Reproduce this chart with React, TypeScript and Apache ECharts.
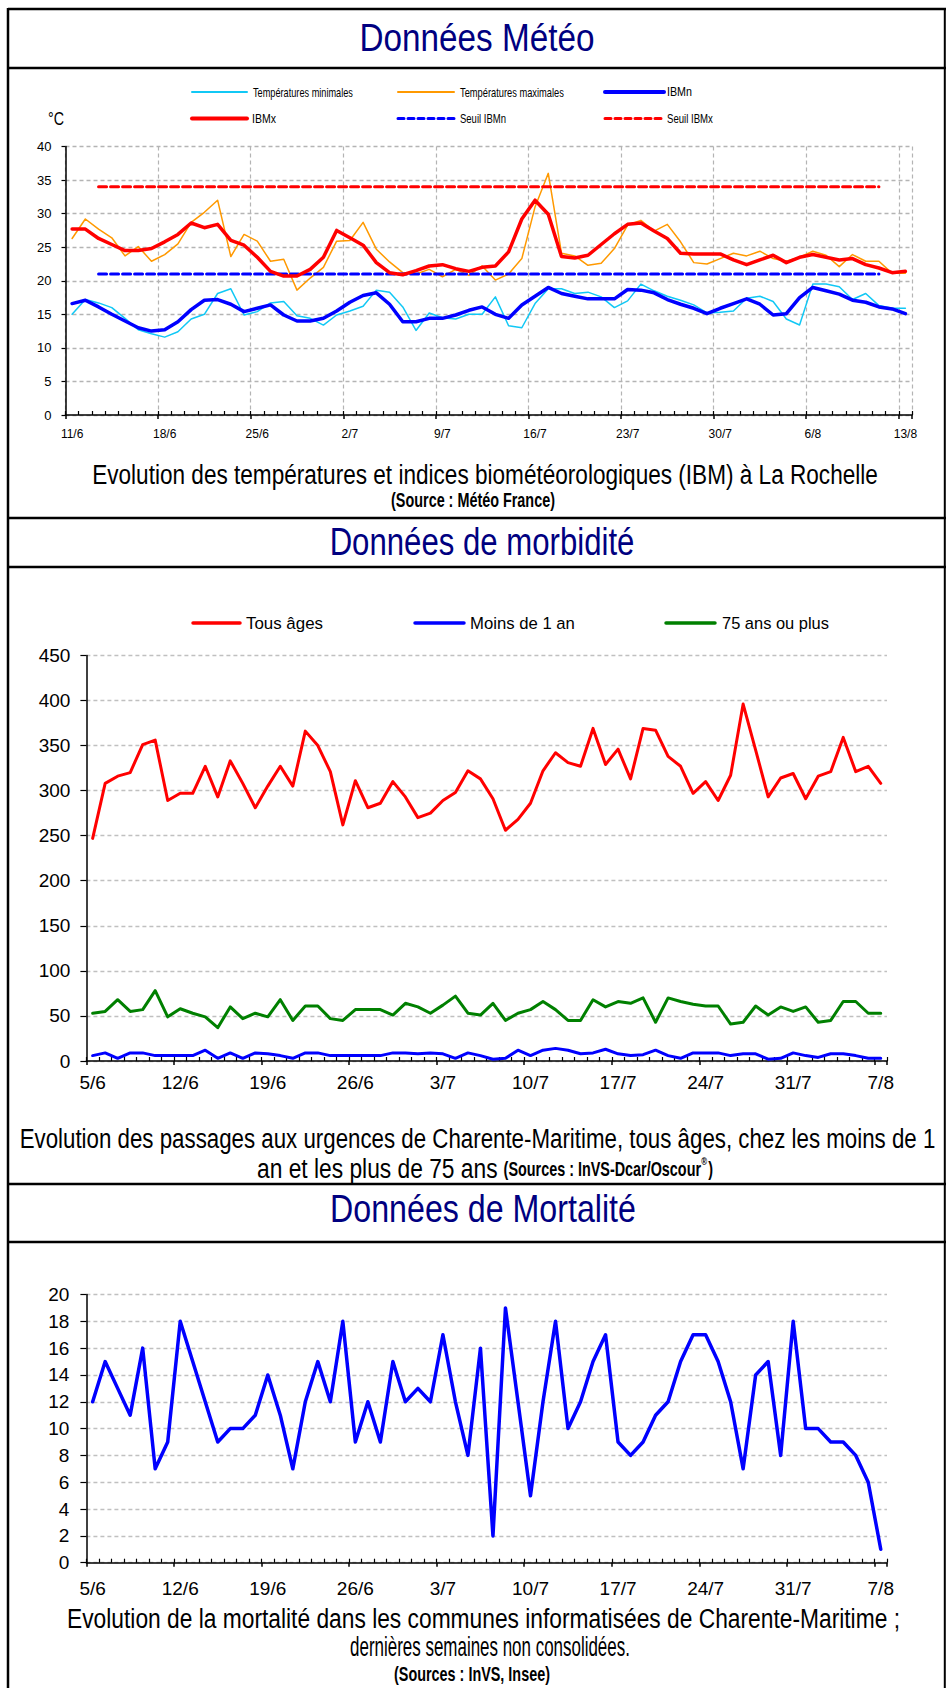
import React, { useEffect, useRef } from "react";
import * as echarts from "echarts";

const FONT = "'Liberation Sans', Arial, sans-serif";

// ---------- categories ----------
function dayLabels(month: number, day: number, count: number): string[] {
  const out: string[] = [];
  const start = Date.UTC(2006, month - 1, day);
  for (let i = 0; i < count; i++) {
    const d = new Date(start + i * 86400000);
    out.push(d.getUTCDate() + "/" + (d.getUTCMonth() + 1));
  }
  return out;
}
const CATS_METEO = dayLabels(6, 11, 64); // 11/6 -> 13/8
const CATS_SANTE = dayLabels(6, 5, 64); // 5/6 -> 7/8

// ---------- Météo (°C) ----------
const TEMP_MIN = [
  15.0, 17.2, 16.7, 16.0, 14.4, 12.7, 12.1, 11.6, 12.4, 14.3, 15.0, 18.1, 18.8, 14.9, 15.4, 16.7, 16.9,
  14.8, 14.4, 13.4, 14.9, 15.5, 16.2, 18.6, 18.3, 16.1, 12.6, 15.2, 14.5, 14.3, 15.0, 15.0, 17.6,
  13.3, 13.0, 16.6, 18.8, 18.8, 18.1, 18.3, 17.6, 16.0, 17.0, 19.5, 18.5, 17.7, 17.1, 16.4, 15.2,
  15.3, 15.5, 17.4, 17.7, 16.9, 14.3, 13.4, 19.5, 19.5, 19.1, 17.2, 18.1, 16.3, 15.9, 15.9,
];
const TEMP_MAX = [
  26.3, 29.2, 27.7, 26.4, 23.7, 25.1, 22.9, 23.9, 25.5, 28.7, 30.2, 32.0, 23.6, 26.9, 25.9, 22.9, 23.2,
  18.6, 20.4, 22.0, 25.9, 26.0, 28.7, 24.7, 22.8, 21.2, 21.0, 21.7, 20.6, 21.7, 20.8, 22.2, 20.1,
  21.0, 23.3, 31.0, 36.0, 24.1, 23.7, 22.3, 22.6, 24.8, 28.3, 29.0, 27.4, 28.4, 25.8, 22.7, 22.5,
  23.3, 24.1, 23.7, 24.4, 23.3, 22.9, 23.5, 24.4, 23.8, 22.1, 23.9, 22.9, 22.9, 21.1, 21.1,
];
const IBMN = [
  16.6, 17.1, 16.1, 15.0, 14.0, 13.0, 12.5, 12.7, 13.9, 15.7, 17.1, 17.2, 16.5, 15.4, 15.9, 16.4, 14.9,
  14.0, 14.0, 14.4, 15.5, 16.8, 17.8, 18.2, 16.5, 13.9, 13.9, 14.4, 14.4, 14.9, 15.6, 16.1, 15.0,
  14.4, 16.4, 17.7, 19.0, 18.1, 17.7, 17.3, 17.3, 17.3, 18.7, 18.6, 18.2, 17.2, 16.5, 15.9, 15.1,
  15.9, 16.6, 17.3, 16.5, 14.9, 15.1, 17.5, 19.0, 18.5, 18.0, 17.1, 16.8, 16.1, 15.8, 15.1,
];
const IBMX = [
  27.7, 27.7, 26.3, 25.4, 24.5, 24.5, 24.8, 25.8, 26.9, 28.6, 27.9, 28.4, 26.0, 25.3, 23.5, 21.4, 20.7,
  20.7, 21.7, 23.5, 27.5, 26.4, 25.3, 22.7, 21.2, 20.9, 21.5, 22.2, 22.4, 21.8, 21.4, 22.0, 22.2,
  24.3, 29.2, 32.0, 29.9, 23.6, 23.4, 23.8, 25.4, 27.0, 28.4, 28.6, 27.4, 26.3, 24.1, 24.0, 24.0,
  24.0, 23.1, 22.4, 23.1, 23.8, 22.7, 23.5, 23.9, 23.5, 23.1, 23.3, 22.4, 21.9, 21.2, 21.4,
];
const SEUIL_IBMN = 21;
const SEUIL_IBMX = 34;
const SEUIL_FROM = 2; // first category index of threshold lines
const SEUIL_TO = 61; // last category index of threshold lines
const METEO_Y_TICKS = { min: 0, max: 40, interval: 5 };

// ---------- Morbidité (passages) ----------
const TOUS_AGES = [
  247, 308, 316, 320, 351, 356, 289, 297, 297, 327, 293, 333, 308, 281, 305, 327, 305, 366, 350, 321,
  262, 311, 281, 286, 310, 293, 270, 275, 289, 298, 322, 313, 291, 256, 268, 286, 322, 342, 331, 327,
  369, 329, 346, 313, 369, 367, 338, 327, 297, 310, 289, 317, 396, 345, 293, 314, 319, 291, 316, 321,
  359, 321, 327, 308,
];
const MOINS_1_AN = [
  6, 9, 3, 9, 9, 6, 6, 6, 6, 12, 3, 9, 3, 9, 8, 6, 3, 9, 9, 6, 6, 6, 6, 6, 9, 9, 8, 9, 8, 3, 9, 6, 2, 3,
  12, 6, 12, 14, 12, 8, 9, 13, 8, 6, 7, 12, 6, 3, 9, 9, 9, 6, 8, 8, 2, 3, 9, 6, 4, 8, 8, 6, 3, 3,
];
const PLUS_75 = [
  53, 55, 68, 55, 57, 78, 49, 58, 53, 49, 37, 60, 47, 53, 49, 68, 45, 61, 61, 47, 45, 57, 57, 57, 51,
  64, 60, 53, 62, 72, 53, 51, 64, 45, 53, 57, 66, 57, 45, 45, 68, 60, 66, 64, 70, 43, 70, 66, 63, 61,
  61, 41, 43, 61, 51, 60, 55, 60, 43, 45, 66, 66, 53, 53,
];
const MORB_Y_TICKS = { min: 0, max: 450, interval: 50 };

// ---------- Mortalité (décès) ----------
const DECES = [
  12, 15, 13, 11, 16, 7, 9, 18, 15, 12, 9, 10, 10, 11, 14, 11, 7, 12, 15, 12, 18, 9, 12, 9, 15, 12, 13,
  12, 17, 12, 8, 16, 2, 19, 12, 5, 12, 18, 10, 12, 15, 17, 9, 8, 9, 11, 12, 15, 17, 17, 15, 12, 7, 14,
  15, 8, 18, 10, 10, 9, 9, 8, 6, 1,
];
const MORT_Y_TICKS = { min: 0, max: 20, interval: 2 };

// ---------- colours ----------
const C_RED = "#FF0000";
const C_BLUE = "#0000FF";
const C_ORANGE = "#FF9900";
const C_CYAN = "#11C8F5";
const C_GREEN = "#008000";
const C_NAVY = "#000080";

// ---------- text helpers ----------
let measureCtx: CanvasRenderingContext2D | null = null;
function textWidth(t: string, size: number, weight: string): number {
  if (!measureCtx) measureCtx = document.createElement("canvas").getContext("2d");
  measureCtx!.font = `${weight} ${size}px ${FONT}`;
  return measureCtx!.measureText(t).width;
}
function scaledText(
  t: string,
  x: number,
  y: number,
  size: number,
  scale: number,
  opts: { align?: string; weight?: string; fill?: string } = {}
): any {
  return {
    type: "text",
    x,
    y,
    scaleX: scale,
    z: 10,
    silent: true,
    style: {
      text: t,
      fontSize: size,
      fontFamily: FONT,
      fontWeight: opts.weight || "normal",
      fill: opts.fill || "#000",
      align: opts.align || "center",
      verticalAlign: "middle",
    },
  };
}
function fitScale(t: string, size: number, width: number, weight = "normal"): number {
  return width / textWidth(t, size, weight);
}
function fitText(
  t: string,
  x: number,
  y: number,
  size: number,
  width: number,
  opts: { align?: string; weight?: string; fill?: string } = {}
): any {
  return scaledText(t, x, y, size, fitScale(t, size, width, opts.weight || "normal"), opts);
}
function hline(y: number, x1 = 8, x2 = 946, w = 2.5): any {
  return { type: "line", z: 10, silent: true, shape: { x1, y1: y, x2, y2: y }, style: { stroke: "#000", lineWidth: w } };
}
function legendLine(x1: number, x2: number, y: number, color: string, w: number, dash?: number[]): any {
  return {
    type: "line",
    z: 10,
    silent: true,
    shape: { x1, y1: y, x2, y2: y },
    style: { stroke: color, lineWidth: w, lineDash: dash || null, lineCap: "round" },
  };
}

function dayAxes(gridIndex: number, cats: string[], fontSize: number, margin: number, split: boolean): any[] {
  return [
    {
      type: "category",
      gridIndex,
      data: cats,
      boundaryGap: true,
      position: "bottom",
      axisLine: { lineStyle: { color: "#000", width: 1.5 } },
      axisTick: { show: true, inside: true, length: 4, interval: 0, lineStyle: { color: "#000", width: 1.2 } },
      axisLabel: { interval: 6, fontSize, fontFamily: FONT, color: "#000", margin },
      splitLine: { show: split, interval: 6, lineStyle: { color: "#b4b4b4", type: [4, 3], width: 1.2 } },
    },
    {
      type: "category",
      gridIndex,
      data: cats,
      boundaryGap: true,
      position: "bottom",
      axisLine: { show: false },
      axisLabel: { show: false },
      splitLine: { show: false },
      axisTick: { show: true, inside: false, length: 4, interval: 6, lineStyle: { color: "#000", width: 1.5 } },
    },
  ];
}
function valueAxis(gridIndex: number, ticks: any, fontSize: number, margin: number, tickLen: number, gridColor: string): any {
  return {
    type: "value",
    gridIndex,
    min: ticks.min,
    max: ticks.max,
    interval: ticks.interval,
    axisLine: { show: true, lineStyle: { color: "#000", width: 1.5 } },
    axisTick: { show: true, length: tickLen, lineStyle: { color: "#000", width: 1.2 } },
    axisLabel: { fontSize, fontFamily: FONT, color: "#000", margin },
    splitLine: { show: true, lineStyle: { color: gridColor, type: [4, 3], width: 1.3 } },
  };
}
function lineSeries(name: string, data: any[], x: number, y: number, color: string, width: number, dash?: number[], z = 2): any {
  return {
    type: "line",
    name,
    data,
    xAxisIndex: x,
    yAxisIndex: y,
    symbol: "none",
    z,
    connectNulls: false,
    lineStyle: { color, width, type: dash || "solid", cap: "round", join: "round" },
    itemStyle: { color },
  };
}

function buildOption(): any {
  const seuil = (v: number) => CATS_METEO.map((_, i) => (i >= SEUIL_FROM && i <= SEUIL_TO ? v : null));

  // caption fonts: condensed look via horizontal scale
  const CAP = 27;
  const SRC = 20;
  const sCap = fitScale(
    "Evolution de la mortalité dans les communes informatisées de Charente-Maritime ;",
    CAP,
    833
  );
  const sSrc = fitScale("(Source : Météo France)", SRC, 164, "bold");

  // morbidity caption line 2, centred as a whole
  const m2a = "an et les plus de 75 ans";
  const m2b = "(Sources : InVS-Dcar/Oscour";
  const wA = textWidth(m2a, CAP, "normal") * sCap;
  const wGap = 6;
  const wB = textWidth(m2b, SRC, "bold") * sSrc;
  const wR = 7;
  const wP = textWidth(")", SRC, "bold") * sSrc;
  const total = wA + wGap + wB + wR + wP;
  const x0 = 485 - total / 2;

  const elements: any[] = [
    // frame
    { type: "line", z: 10, silent: true, shape: { x1: 8, y1: 8, x2: 8, y2: 1688 }, style: { stroke: "#000", lineWidth: 2.5 } },
    { type: "line", z: 10, silent: true, shape: { x1: 944.8, y1: 8, x2: 944.8, y2: 1688 }, style: { stroke: "#000", lineWidth: 2 } },
    hline(9),
    hline(68),
    hline(518),
    hline(567),
    hline(1184),
    hline(1242),
    // headers
    fitText("Données Météo", 477, 38, 38, 235, { fill: C_NAVY }),
    fitText("Données de morbidité", 482, 542, 38, 305, { fill: C_NAVY }),
    fitText("Données de Mortalité", 483, 1209, 38, 306, { fill: C_NAVY }),
    // meteo legend
    legendLine(192, 247, 92, C_CYAN, 2),
    fitText("Températures minimales", 253, 92, 13, 100, { align: "left" }),
    legendLine(398, 454, 92, C_ORANGE, 2),
    fitText("Températures maximales", 460, 92, 13, 104, { align: "left" }),
    legendLine(605, 664, 92, C_BLUE, 4),
    fitText("IBMn", 667, 92, 13, 25, { align: "left" }),
    fitText("°C", 56, 118.5, 18, 16),
    legendLine(192, 247, 118.5, C_RED, 4),
    fitText("IBMx", 252, 118.5, 13, 24, { align: "left" }),
    legendLine(398, 454, 118.5, C_BLUE, 3, [6, 4]),
    fitText("Seuil IBMn", 460, 118.5, 13, 46, { align: "left" }),
    legendLine(605, 664, 118.5, C_RED, 3, [6, 4]),
    fitText("Seuil IBMx", 667, 118.5, 13, 46, { align: "left" }),
    // meteo caption
    fitText("Evolution des températures et indices biométéorologiques (IBM) à La Rochelle", 485, 474, CAP, 786),
    scaledText("(Source : Météo France)", 473, 500, SRC, sSrc, { weight: "bold" }),
    // morbidity legend
    legendLine(193, 240, 623, C_RED, 3.5),
    fitText("Tous âges", 246, 623, 17, 77, { align: "left" }),
    legendLine(415, 464, 623, C_BLUE, 3.5),
    fitText("Moins de 1 an", 470, 623, 17, 105, { align: "left" }),
    legendLine(666, 715, 623, C_GREEN, 3.5),
    fitText("75 ans ou plus", 722, 623, 17, 107, { align: "left" }),
    // morbidity caption
    fitText("Evolution des passages aux urgences de Charente-Maritime, tous âges, chez les moins de 1", 477.5, 1139, CAP, 916),
    scaledText(m2a, x0, 1168, CAP, sCap, { align: "left" }),
    scaledText(m2b, x0 + wA + wGap, 1169, SRC, sSrc, { align: "left", weight: "bold" }),
    scaledText("®", x0 + wA + wGap + wB, 1161, 11, sSrc, { align: "left", weight: "bold" }),
    scaledText(")", x0 + wA + wGap + wB + wR, 1169, SRC, sSrc, { align: "left", weight: "bold" }),
    // mortality caption
    scaledText("Evolution de la mortalité dans les communes informatisées de Charente-Maritime ;", 483.5, 1618, CAP, sCap),
    fitText("dernières semaines non consolidées.", 490, 1647, CAP, 280),
    scaledText("(Sources : InVS, Insee)", 472, 1674, SRC, sSrc, { weight: "bold" }),
  ];

  return {
    animation: false,
    backgroundColor: "#fff",
    textStyle: { fontFamily: FONT },
    grid: [
      { left: 65.5, top: 146.5, width: 846.5, height: 268.5 },
      { left: 86.4, top: 655.4, width: 800.6, height: 405.6 },
      { left: 86.4, top: 1294.5, width: 800.6, height: 268.2 },
    ],
    xAxis: [
      ...dayAxes(0, CATS_METEO, 12, 13, true),
      ...dayAxes(1, CATS_SANTE, 19, 12, false),
      ...dayAxes(2, CATS_SANTE, 19, 16, false),
    ],
    yAxis: [
      valueAxis(0, METEO_Y_TICKS, 13, 14, 4, "#b4b4b4"),
      valueAxis(1, MORB_Y_TICKS, 19, 16, 6, "#c0c0c0"),
      valueAxis(2, MORT_Y_TICKS, 19, 17, 6, "#c0c0c0"),
    ],
    series: [
      lineSeries("Températures minimales", TEMP_MIN, 0, 0, C_CYAN, 1.5),
      lineSeries("Températures maximales", TEMP_MAX, 0, 0, C_ORANGE, 1.5),
      lineSeries("Seuil IBMn", seuil(SEUIL_IBMN), 0, 0, C_BLUE, 3, [8, 4], 3),
      lineSeries("Seuil IBMx", seuil(SEUIL_IBMX), 0, 0, C_RED, 3, [8, 4], 3),
      lineSeries("IBMn", IBMN, 0, 0, C_BLUE, 3.5, undefined, 4),
      lineSeries("IBMx", IBMX, 0, 0, C_RED, 3.5, undefined, 4),
      lineSeries("Tous âges", TOUS_AGES, 2, 1, C_RED, 3),
      lineSeries("75 ans ou plus", PLUS_75, 2, 1, C_GREEN, 3),
      lineSeries("Moins de 1 an", MOINS_1_AN, 2, 1, C_BLUE, 3),
      lineSeries("Décès", DECES, 4, 2, C_BLUE, 3.5),
    ],
    graphic: { elements },
  };
}

export default function App() {
  const ref = useRef<HTMLDivElement>(null);
  useEffect(() => {
    document.body.style.margin = "0";
    if (!ref.current) return;
    const chart = echarts.init(ref.current, undefined, { renderer: "svg" });
    chart.setOption(buildOption());
    return () => chart.dispose();
  }, []);
  return <div ref={ref} style={{ width: 946, height: 1688, background: "#fff" }} />;
}
